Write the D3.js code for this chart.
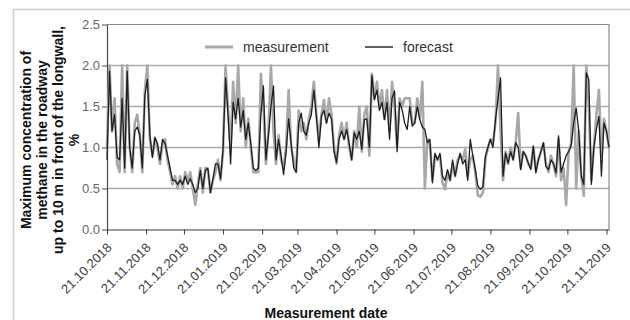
<!DOCTYPE html>
<html>
<head>
<meta charset="utf-8">
<script src="https://cdnjs.cloudflare.com/ajax/libs/d3/7.8.5/d3.min.js"></script>
<style>
  body { margin: 0; background: #fff; }
  svg { display: block; font-family: "Liberation Sans", Arial, sans-serif; }
</style>
</head>
<body>
<div id="chart"></div>
<script>
// series start, one reading every 2 days
const startDate = "2018-10-21";
const stepDays = 2;

// methane concentration, %
const measurement = [
  1.0, 2.0, 1.2, 1.6, 0.8, 0.7, 2.0, 0.7, 2.0, 1.0,
  0.7, 1.3, 1.4, 1.15, 0.7, 1.7, 2.0, 1.1, 0.9, 1.12,
  1.0, 0.8, 1.05, 1.1, 0.85, 0.7, 0.55, 0.65, 0.5, 0.65,
  0.5, 0.7, 0.6, 0.7, 0.5, 0.3, 0.55, 0.75, 0.45, 0.75,
  0.72, 0.45, 0.6, 0.7, 0.85, 0.6, 0.95, 2.0, 1.45, 1.0,
  1.8, 1.3, 2.0, 1.2, 1.6, 1.0, 1.35, 1.0, 0.7, 0.7,
  0.7, 1.9, 1.5, 0.8, 1.2, 2.0, 1.2, 0.8, 1.15, 0.85,
  0.75, 1.0, 1.7, 1.0, 0.85, 0.7, 1.45, 1.2, 1.3, 1.1,
  1.35, 1.5, 1.8, 1.4, 1.1, 1.4, 1.58, 1.3, 1.6, 1.4,
  1.0, 0.8, 1.15, 1.3, 1.1, 1.3, 1.0, 0.85, 1.2, 1.0,
  1.5, 0.95, 1.4, 1.5, 0.9, 1.9, 1.6, 1.8, 1.5, 1.7,
  1.35, 1.7, 1.2, 1.8, 1.5, 1.0, 1.6, 1.5, 1.6, 1.6,
  1.6, 1.3, 1.3, 1.6, 1.35, 1.8, 0.5, 1.1, 1.05, 0.6,
  0.9, 0.85, 0.9, 0.57, 0.49, 0.7, 0.6, 0.8, 0.65, 0.85,
  0.9, 0.85, 0.98, 0.65, 0.85, 0.9, 0.7, 0.42, 0.4, 0.45,
  0.85, 1.0, 1.1, 1.05, 1.3, 2.0, 1.2, 0.6, 0.95, 0.8,
  1.0, 0.85, 1.05, 1.42, 0.75, 0.95, 0.9, 0.8, 0.75, 1.0,
  0.72, 0.85, 0.95, 1.05, 0.8, 0.7, 0.9, 0.8, 0.65, 1.1,
  0.6, 0.75, 0.3, 0.95, 1.05, 2.0, 0.5, 1.2, 0.65, 0.41,
  2.0, 1.5, 0.6, 1.0, 1.4, 1.7, 0.9, 1.35, 1.2, 1.0
];
const forecast = [
  0.85, 1.93, 1.2, 1.4, 0.88, 0.85, 1.6, 0.75, 1.93, 1.0,
  0.75, 1.2, 1.25, 1.15, 0.75, 1.63, 1.83, 1.15, 0.88, 1.12,
  1.05, 0.85, 1.1, 1.05, 0.9, 0.75, 0.6, 0.6, 0.55, 0.6,
  0.55, 0.65, 0.55, 0.62, 0.55, 0.45, 0.5, 0.72, 0.5, 0.72,
  0.75, 0.45, 0.62, 0.8, 0.8, 0.62, 0.98, 1.85, 1.4, 0.8,
  1.55, 1.35, 1.6, 1.25, 1.45, 1.1, 1.3, 1.05, 0.75, 0.72,
  0.75, 1.4, 1.75, 0.85, 1.15, 1.5, 1.75, 0.85, 1.1, 0.9,
  0.67, 0.95, 1.35, 1.05, 0.75, 0.7, 1.3, 1.42, 1.2, 1.15,
  1.3, 1.4, 1.7, 1.38, 1.0, 1.38, 1.45, 1.3, 1.42, 1.35,
  0.95, 0.82, 1.1, 1.2, 1.1, 1.22, 1.05, 0.85, 1.18, 1.1,
  1.2, 0.98, 1.34, 1.35, 1.0, 1.88, 1.58, 1.7, 1.45, 1.55,
  1.34, 1.55, 1.1, 1.6, 1.69, 0.95, 1.55, 1.46, 1.3, 1.22,
  1.5, 1.26, 1.3, 1.5, 1.34, 1.25, 1.22, 1.06, 1.1, 0.57,
  0.93, 0.85, 0.93, 0.65, 0.6, 0.73, 0.6, 0.85, 0.65, 0.8,
  0.93, 0.8, 0.85, 0.6, 1.1, 0.9, 0.73, 0.53, 0.49, 0.52,
  0.9, 1.0, 1.1, 1.0, 1.34, 1.6, 1.85, 0.65, 0.93, 0.81,
  0.95, 0.85, 1.06, 1.0, 0.73, 0.95, 0.9, 0.81, 0.73, 1.02,
  0.69, 0.85, 0.95, 1.06, 0.77, 0.73, 0.85, 0.8, 0.69, 1.14,
  0.7, 0.8, 0.9, 0.95, 1.02, 1.3, 1.48, 1.2, 0.65, 0.55,
  1.91, 1.83, 0.55, 1.0, 1.22, 1.38, 0.65, 1.3, 1.2, 1.0
];

const tickDates = [
  "2018-10-21", "2018-11-21", "2018-12-21", "2019-01-21", "2019-02-21",
  "2019-03-21", "2019-04-21", "2019-05-21", "2019-06-21", "2019-07-21",
  "2019-08-21", "2019-09-21", "2019-10-21", "2019-11-21"
];
const yTicks = [0, 0.5, 1.0, 1.5, 2.0, 2.5];
const legendLabels = ["measurement", "forecast"];
const yTitleLines = [
  "Maximum concentration of",
  "methane in the roadway",
  "up to 10 m in front of the longwall,",
  "%"
];
const xTitle = "Measurement date";

const parseDate = d3.timeParse("%Y-%m-%d");
const start = parseDate(startDate);
const dates = measurement.map((v, i) => d3.timeDay.offset(start, i * stepDays));

const width = 630, height = 320;
const plot = { left: 107, right: 609, top: 24.5, bottom: 229.5 };

const svg = d3.select("#chart").append("svg")
  .attr("width", width)
  .attr("height", height);

svg.append("rect").attr("width", width).attr("height", height).attr("fill", "#fff");

// outer figure frame
svg.append("path")
  .attr("d", `M13.5,${height}V9.5H${width}`)
  .attr("fill", "none")
  .attr("stroke", "#cfcfcf")
  .attr("stroke-width", 1.5);

const x = d3.scaleTime()
  .domain(d3.extent(dates))
  .range([plot.left, plot.right]);
const y = d3.scaleLinear()
  .domain([0, 2.5])
  .range([plot.bottom, plot.top]);

// horizontal grid
svg.append("g")
  .selectAll("line")
  .data(yTicks.filter(d => d > 0 && d < 2.5))
  .join("line")
  .attr("x1", plot.left).attr("x2", plot.right)
  .attr("y1", d => y(d)).attr("y2", d => y(d))
  .attr("stroke", "#ababab")
  .attr("stroke-width", 1.4);

// top + right border of the plot
svg.append("path")
  .attr("d", `M${plot.left},${y(2.5)}H${plot.right}V${y(0)}`)
  .attr("fill", "none")
  .attr("stroke", "#8a8a8a")
  .attr("stroke-width", 1.2);

// y axis
const yAxis = svg.append("g")
  .attr("transform", `translate(${plot.left},0)`)
  .call(d3.axisLeft(y).tickValues(yTicks).tickFormat(d3.format(".1f")).tickSize(5).tickSizeOuter(0));
yAxis.select(".domain").attr("stroke", "#4a4a4a").attr("stroke-width", 1.2);
yAxis.selectAll(".tick line").attr("stroke", "#4a4a4a");
yAxis.selectAll("text")
  .attr("fill", "#666")
  .attr("font-size", 13)
  .attr("x", -7);

// x axis
const xAxis = svg.append("g")
  .attr("transform", `translate(0,${plot.bottom})`)
  .call(d3.axisBottom(x)
    .tickValues(tickDates.map(parseDate))
    .tickFormat(d3.timeFormat("%d.%m.%Y"))
    .tickSize(5).tickSizeOuter(0));
xAxis.select(".domain").attr("stroke", "#3a3a3a").attr("stroke-width", 1.2);
xAxis.selectAll(".tick line").attr("stroke", "#3a3a3a");
xAxis.selectAll("text")
  .attr("fill", "#404040")
  .attr("font-size", 13)
  .attr("text-anchor", "end")
  .attr("dy", 0)
  .attr("y", 0)
  .attr("transform", "translate(5,19) rotate(-45)");

// series
const line = d3.line()
  .x(d => x(d.date))
  .y(d => y(d.value));

const mData = measurement.map((v, i) => ({ date: dates[i], value: v }));
const fData = forecast.map((v, i) => ({ date: dates[i], value: v }));

svg.append("path")
  .datum(mData)
  .attr("fill", "none")
  .attr("stroke", "#a8a8a8")
  .attr("stroke-width", 2.6)
  .attr("stroke-linejoin", "round")
  .attr("d", line);

svg.append("path")
  .datum(fData)
  .attr("fill", "none")
  .attr("stroke", "#1e1e1e")
  .attr("stroke-width", 1.3)
  .attr("stroke-linejoin", "round")
  .attr("d", line);

// legend
const legend = svg.append("g").attr("font-size", 14).attr("fill", "#333");
const legendX = [205, 365];
const legendStyle = [{ c: "#a8a8a8", w: 3 }, { c: "#1e1e1e", w: 1.4 }];
legendLabels.forEach((label, i) => {
  legend.append("line")
    .attr("x1", legendX[i]).attr("x2", legendX[i] + 28)
    .attr("y1", 47).attr("y2", 47)
    .attr("stroke", legendStyle[i].c)
    .attr("stroke-width", legendStyle[i].w);
  legend.append("text")
    .attr("x", legendX[i] + 38)
    .attr("y", 52)
    .text(label);
});

// axis titles
const yTitle = svg.append("text")
  .attr("transform", "translate(0,140) rotate(-90)")
  .attr("text-anchor", "middle")
  .attr("font-size", 14)
  .attr("font-weight", "bold")
  .attr("fill", "#111");
yTitleLines.forEach((t, i) => {
  yTitle.append("tspan")
    .attr("x", 0)
    .attr("y", 31 + i * 16)
    .text(t);
});

svg.append("text")
  .attr("x", 326)
  .attr("y", 318)
  .attr("text-anchor", "middle")
  .attr("font-size", 14)
  .attr("font-weight", "bold")
  .attr("fill", "#111")
  .text(xTitle);
</script>
</body>
</html>
